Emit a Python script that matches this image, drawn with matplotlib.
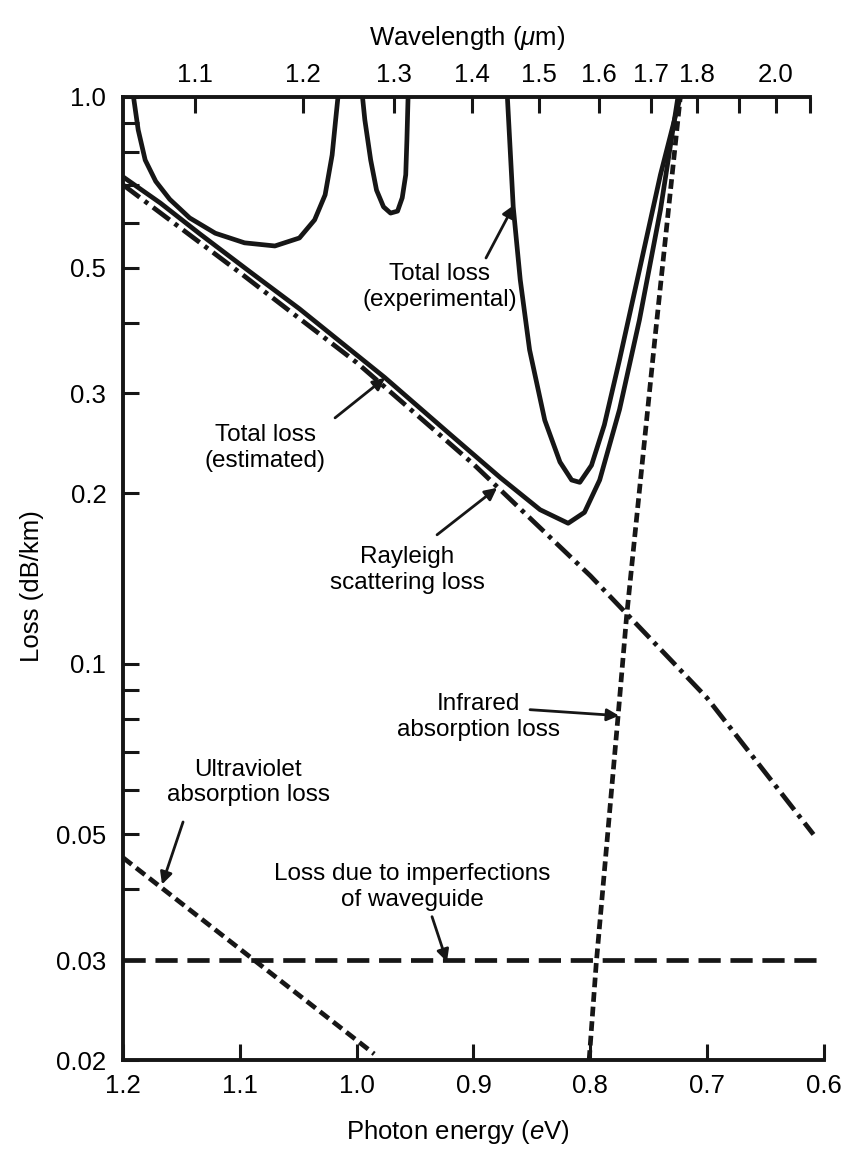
import numpy as np
import matplotlib
matplotlib.use("Agg")
import matplotlib.pyplot as plt
from matplotlib.ticker import FixedLocator, NullFormatter, NullLocator

plt.rcParams['font.family'] = ['Liberation Sans', 'DejaVu Sans']
plt.rcParams['mathtext.fontset'] = 'custom'
plt.rcParams['mathtext.rm'] = 'Liberation Sans'
plt.rcParams['mathtext.it'] = 'Liberation Sans:italic'
plt.rcParams['lines.scale_dashes'] = False

# ---------------- data (photon energy in eV, loss in dB/km) ----------------
exp_a_E = [1.191, 1.187, 1.181, 1.172, 1.160, 1.143, 1.121, 1.096, 1.070,
           1.049, 1.036, 1.027, 1.021, 1.018, 1.016]
exp_a_L = [1.00, 0.875, 0.774, 0.71, 0.66, 0.612, 0.575, 0.553, 0.546,
           0.564, 0.607, 0.672, 0.79, 0.911, 1.00]

exp_b_E = [0.995, 0.993, 0.988, 0.983, 0.977, 0.971, 0.965, 0.961, 0.958,
           0.957, 0.956]
exp_b_L = [1.00, 0.911, 0.774, 0.685, 0.64, 0.624, 0.629, 0.664, 0.729,
           0.84, 1.00]

exp_c_E = [0.871, 0.866, 0.860, 0.852, 0.839, 0.826, 0.816, 0.809, 0.799,
           0.788, 0.775, 0.758, 0.740, 0.723]
exp_c_L = [1.00, 0.64, 0.476, 0.358, 0.269, 0.227, 0.211, 0.209, 0.224,
           0.264, 0.344, 0.495, 0.729, 1.00]

est_E = [1.200, 1.168, 1.134, 1.091, 1.049, 0.976, 0.920, 0.877, 0.843,
         0.819, 0.805, 0.792, 0.775, 0.758, 0.740, 0.725]
est_L = [0.723, 0.650, 0.573, 0.491, 0.423, 0.320, 0.254, 0.213, 0.187,
         0.177, 0.185, 0.211, 0.281, 0.404, 0.632, 1.00]

ray_E = [1.2, 1.1, 1.0, 0.9, 0.8, 0.7, 0.609]
ray_L = [0.70, 0.49, 0.34, 0.225, 0.143, 0.087, 0.050]

ir_E = [0.801, 0.795, 0.776, 0.769, 0.745, 0.723]
ir_L = [0.020, 0.0295, 0.082, 0.121, 0.37, 1.00]

uv_E = [1.200, 0.985]
uv_L = [0.0455, 0.0205]

wg_E = [1.200, 0.605]
wg_L = [0.030, 0.030]

y_major = [1.0, 0.5, 0.3, 0.2, 0.1, 0.05, 0.03, 0.02]
y_major_labels = ['1.0', '0.5', '0.3', '0.2', '0.1', '0.05', '0.03', '0.02']
y_minor = [0.9, 0.8, 0.7, 0.6, 0.4, 0.09, 0.08, 0.07, 0.06, 0.04]
x_ticks = [1.2, 1.1, 1.0, 0.9, 0.8, 0.7, 0.6]
x_labels = ['1.2', '1.1', '1.0', '0.9', '0.8', '0.7', '0.6']
wl_ticks = [1.1, 1.2, 1.3, 1.4, 1.5, 1.6, 1.7, 1.8, 1.9, 2.0, 2.1]
wl_labels = ['1.1', '1.2', '1.3', '1.4', '1.5', '1.6', '1.7', '1.8', '', '2.0', '']
# calibration of the printed wavelength scale: E = A / lambda + B
A_CAL, B_CAL = 1.216, 0.033

# ---------------- figure ----------------
W, H = 868, 1176
fig = plt.figure(figsize=(W / 100, H / 100), dpi=100)
L, R, T, B = 123, 824, 97, 1060
ax = fig.add_axes([L / W, 1 - B / H, (R - L) / W, (B - T) / H])

ink = '#161616'
lw = 3.4
for xs, ys in [(exp_a_E, exp_a_L), (exp_b_E, exp_b_L), (exp_c_E, exp_c_L), (est_E, est_L)]:
    ax.plot(xs, ys, color=ink, lw=lw, solid_capstyle='round', solid_joinstyle='round')
ax.plot(ray_E, ray_L, color=ink, lw=lw, dashes=(15, 4.5, 3, 4.5))
ax.plot(ir_E, ir_L, color=ink, lw=lw, dashes=(7, 3.5))
ax.plot(uv_E, uv_L, color=ink, lw=lw, dashes=(8, 4))
ax.plot(wg_E, wg_L, color=ink, lw=lw, dashes=(16, 7))

ax.set_yscale('log')
ax.set_xlim(1.2, 0.6)
ax.set_ylim(0.02, 1.0)

ax.yaxis.set_major_locator(FixedLocator(y_major))
ax.yaxis.set_minor_locator(FixedLocator(y_minor))
ax.set_yticklabels(y_major_labels)
ax.yaxis.set_minor_formatter(NullFormatter())
ax.set_xticks(x_ticks)
ax.set_xticklabels(x_labels)
ax.xaxis.set_minor_locator(NullLocator())

fs_tick = 18.5
fs_lab = 18.5
fs_ann = 17.5
ax.tick_params(axis='both', which='both', direction='in', width=2.2,
               length=11.5, labelsize=fs_tick, color=ink)
ax.tick_params(axis='y', which='both', pad=12)
ax.tick_params(axis='x', which='both', pad=10, top=False)
for s in ['left', 'bottom']:
    ax.spines[s].set_linewidth(2.8)
    ax.spines[s].set_color(ink)
ax.spines['right'].set_visible(False)
ax.spines['top'].set_visible(False)


def e_to_wl(e):
    return A_CAL / (np.asarray(e, float) - B_CAL)


def wl_to_e(w):
    return A_CAL / np.asarray(w, float) + B_CAL


sec = ax.secondary_xaxis('top', functions=(e_to_wl, wl_to_e))
sec.set_xticks(wl_ticks)
sec.set_xticklabels(wl_labels)
sec.xaxis.set_minor_locator(NullLocator())
sec.tick_params(direction='in', width=2.2, length=11.5, labelsize=fs_tick, pad=7,
                color=ink)
sec.spines['top'].set_linewidth(2.8)
sec.spines['top'].set_color(ink)
sec.spines['top'].set_bounds(float(e_to_wl(1.2)), 2.1)

fig.text(467 / W, 1 - 38 / H, r'Wavelength ($\mu$m)', ha='center', va='center', fontsize=fs_lab)
fig.text(458 / W, 1 - 1132 / H, r'Photon energy ($e$V)', ha='center', va='center', fontsize=fs_lab)
fig.text(32 / W, 1 - 586 / H, 'Loss (dB/km)', ha='center', va='center', rotation=90, fontsize=fs_lab)

arrow = dict(arrowstyle='-|>', lw=2.0, color=ink, mutation_scale=18,
             shrinkA=0, shrinkB=0)
tkw = dict(ha='center', va='center', fontsize=fs_ann, linespacing=1.2)

ax.text(0.9287, 0.462, 'Total loss\n(experimental)', **tkw)
ax.annotate('', xy=(0.8653, 0.645), xytext=(0.8893, 0.52), arrowprops=arrow)

ax.text(1.0784, 0.2404, 'Total loss\n(estimated)', **tkw)
ax.annotate('', xy=(0.9757, 0.3195), xytext=(1.0185, 0.2716), arrowprops=arrow)

ax.text(0.9569, 0.1465, 'Rayleigh\nscattering loss', **tkw)
ax.annotate('', xy=(0.8798, 0.2044), xytext=(0.9312, 0.1689), arrowprops=arrow)

ax.text(0.8961, 0.0806, 'Infrared\nabsorption loss', **tkw)
ax.annotate('', xy=(0.7754, 0.081), xytext=(0.8516, 0.083), arrowprops=arrow)

ax.text(1.093, 0.0617, 'Ultraviolet\nabsorption loss', **tkw)
ax.annotate('', xy=(1.1666, 0.0408), xytext=(1.1486, 0.0526), arrowprops=arrow)

ax.text(0.9526, 0.0404, 'Loss due to imperfections\nof waveguide', **tkw)
ax.annotate('', xy=(0.9227, 0.0298), xytext=(0.9355, 0.0358), arrowprops=arrow)

fig.savefig('out.png', dpi=100)
